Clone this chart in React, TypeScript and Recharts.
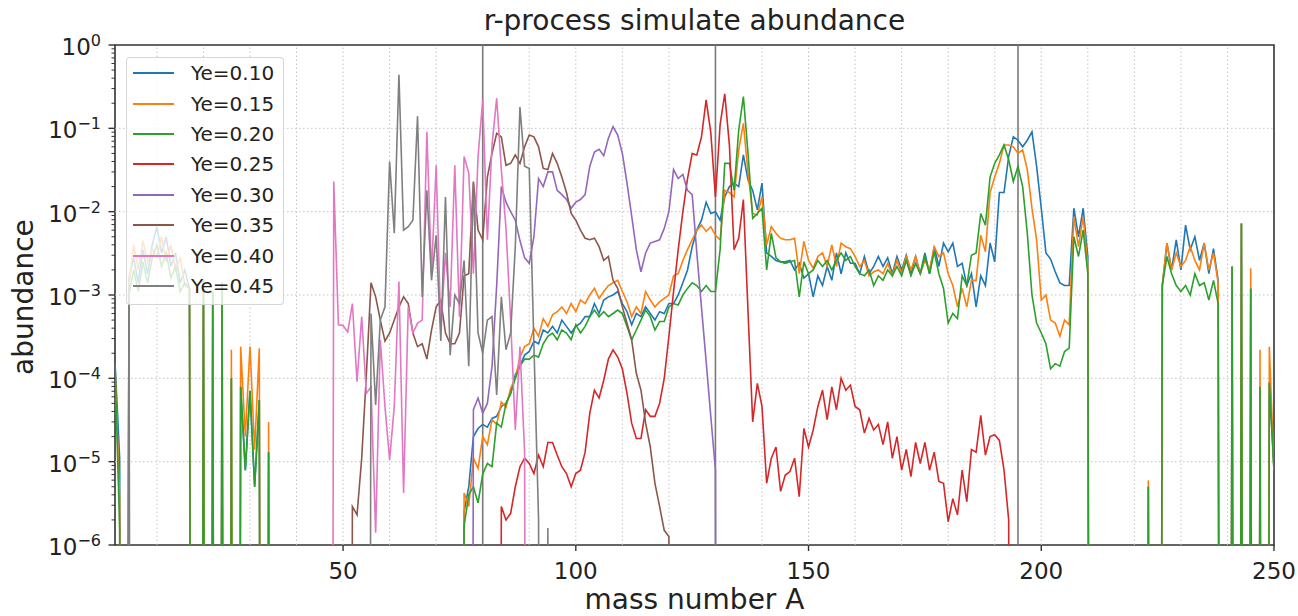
import { LineChart, Line, XAxis, YAxis, Legend, ReferenceLine, ReferenceArea } from "recharts";

const FONT = '"DejaVu Sans", Verdana, sans-serif';

// abundance per mass number A; 0 means nothing produced at that A
const ye010 = [
  1.6e-4, 1.1e-5, 0, 1.6e-3, 2.8e-3, 1.4e-3, 3.5e-3, 1.8e-3, 4.0e-3, 6.6e-3,
  3.2e-3, 5.0e-3, 2.2e-3, 3.2e-3, 1.4e-3, 2.0e-3, 1.2e-3, 0, 0, 1.5e-3,
  0, 1.1e-3, 0, 1.4e-3, 0, 1.0e-4, 0, 7.9e-5, 7.9e-6, 7.1e-5,
  5.0e-6, 5.5e-5, 0, 1.3e-5, 0, 0, 0, 0, 0, 0,
  0, 0, 0, 0, 0, 0, 0, 0, 0, 0,
  0, 0, 0, 0, 0, 0, 0, 0, 0, 0,
  0, 0, 0, 0, 0, 0, 0, 0, 0, 0,
  0, 0, 0, 0, 0, 2.5e-6, 5.0e-6, 2.0e-5, 2.5e-5, 2.8e-5,
  2.6e-5, 3.3e-5, 3.5e-5, 4.6e-5, 5.0e-5, 6.6e-5, 1.1e-4, 1.4e-4, 1.9e-4, 2.1e-4,
  2.8e-4, 2.6e-4, 3.8e-4, 3.5e-4, 4.2e-4, 3.5e-4, 5.0e-4, 4.2e-4, 3.5e-4, 4.2e-4,
  4.6e-4, 5.5e-4, 5.5e-4, 7.9e-4, 6.0e-4, 8.7e-4, 9.5e-4, 1.0e-3, 1.1e-3, 7.9e-4,
  6.3e-4, 4.4e-4, 6.0e-4, 5.5e-4, 7.2e-4, 6.0e-4, 5.0e-4, 6.3e-4, 6.0e-4, 7.9e-4,
  7.9e-4, 1.0e-3, 1.4e-3, 2.0e-3, 3.8e-3, 6.0e-3, 7.9e-3, 1.3e-2, 9.5e-3, 1.0e-2,
  7.9e-3, 1.5e-2, 2.0e-2, 2.2e-2, 2.0e-2, 4.8e-2, 2.4e-2, 1.8e-2, 1.05e-2, 2.2e-2,
  3.2e-3, 2.9e-3, 2.6e-3, 2.5e-3, 2.5e-3, 2.6e-3, 2.0e-3, 2.4e-3, 1.6e-3, 1.8e-3,
  9.5e-4, 1.7e-3, 1.3e-3, 2.2e-3, 1.5e-3, 3.2e-3, 1.8e-3, 3.2e-3, 2.4e-3, 2.4e-3,
  1.8e-3, 2.9e-3, 1.8e-3, 2.2e-3, 2.9e-3, 2.2e-3, 2.8e-3, 1.8e-3, 2.9e-3, 2.0e-3,
  3.0e-3, 1.8e-3, 2.9e-3, 1.8e-3, 3.2e-3, 1.8e-3, 3.8e-3, 2.2e-3, 4.2e-3, 3.3e-3,
  4.2e-3, 2.2e-3, 2.4e-3, 1.3e-3, 1.8e-3, 7.2e-4, 1.7e-3, 1.3e-3, 4.2e-3, 2.5e-3,
  1.7e-2, 1.7e-2, 4.6e-2, 7.9e-2, 7.2e-2, 6.0e-2, 7.2e-2, 9.1e-2, 3.5e-2, 1.1e-2,
  3.2e-3, 2.7e-3, 1.9e-3, 1.4e-3, 1.3e-3, 1.3e-3, 1.1e-2, 5.0e-3, 1.1e-2, 2.9e-3,
  0, 0, 0, 0, 0, 0, 0, 0, 0, 0,
  0, 0, 5.0e-6, 0, 0, 1.3e-3, 4.2e-3, 2.0e-3, 4.6e-3, 2.0e-3,
  6.9e-3, 3.5e-3, 5.0e-3, 2.6e-3, 4.2e-3, 1.8e-3, 3.6e-3, 1.5e-3, 0, 0,
  2.2e-3, 0, 7.2e-3, 0, 1.2e-3, 0, 7.9e-5, 0, 8.9e-5, 7.9e-6,
];

const ye015 = [
  1.4e-4, 3.5e-6, 0, 1.3e-3, 4.0e-3, 2.0e-3, 4.5e-3, 2.5e-3, 3.5e-3, 2.8e-3,
  5.0e-3, 2.5e-3, 4.0e-3, 2.0e-3, 2.8e-3, 1.3e-3, 1.2e-3, 0, 0, 1.5e-3,
  0, 1.1e-3, 0, 1.4e-3, 0, 2.2e-4, 0, 2.4e-4, 2.0e-5, 2.4e-4,
  1.4e-5, 2.3e-4, 0, 3.0e-5, 0, 0, 0, 0, 0, 0,
  0, 0, 0, 0, 0, 0, 0, 0, 0, 0,
  0, 0, 0, 0, 0, 0, 0, 0, 0, 0,
  0, 0, 0, 0, 0, 0, 0, 0, 0, 0,
  0, 0, 0, 0, 0, 4.2e-6, 2.9e-6, 1.1e-5, 8.3e-6, 2.0e-5,
  1.6e-5, 3.2e-5, 2.8e-5, 5.2e-5, 4.5e-5, 7.6e-5, 1.0e-4, 1.8e-4, 2.4e-4, 2.6e-4,
  4.0e-4, 3.2e-4, 5.2e-4, 4.2e-4, 5.8e-4, 6.3e-4, 7.2e-4, 6.0e-4, 7.9e-4, 6.3e-4,
  8.7e-4, 7.9e-4, 1.0e-3, 1.2e-3, 9.1e-4, 1.1e-3, 1.3e-3, 1.4e-3, 1.5e-3, 1.1e-3,
  8.3e-4, 5.5e-4, 7.2e-4, 6.0e-4, 1.1e-3, 8.7e-4, 7.2e-4, 8.3e-4, 9.1e-4, 1.0e-3,
  1.7e-3, 1.8e-3, 2.6e-3, 3.5e-3, 4.6e-3, 6.0e-3, 6.9e-3, 5.8e-3, 6.6e-3, 5.2e-3,
  4.6e-3, 1.8e-2, 1.7e-2, 1.5e-2, 5.5e-2, 1.15e-1, 2.9e-2, 9.5e-3, 9.1e-3, 1.5e-2,
  4.0e-3, 6.6e-3, 5.5e-3, 4.8e-3, 4.6e-3, 4.6e-3, 4.8e-3, 1.8e-3, 4.4e-3, 2.6e-3,
  2.1e-3, 2.9e-3, 3.2e-3, 2.2e-3, 4.0e-3, 2.2e-3, 4.2e-3, 3.8e-3, 3.6e-3, 2.9e-3,
  2.2e-3, 2.6e-3, 1.7e-3, 1.9e-3, 2.0e-3, 1.8e-3, 2.4e-3, 1.7e-3, 2.6e-3, 1.8e-3,
  2.9e-3, 2.0e-3, 2.9e-3, 1.8e-3, 2.6e-3, 2.0e-3, 3.8e-3, 2.9e-3, 3.2e-3, 1.8e-3,
  1.3e-3, 7.2e-4, 1.2e-3, 7.2e-4, 1.5e-3, 1.5e-3, 5.2e-3, 3.3e-3, 1.7e-2, 2.6e-2,
  3.8e-2, 6.3e-2, 6.3e-2, 6.0e-2, 5.0e-2, 5.5e-2, 3.2e-2, 1.1e-2, 4.6e-3, 8.7e-4,
  1.0e-3, 5.0e-4, 4.6e-4, 3.2e-4, 5.0e-4, 4.4e-4, 8.7e-3, 3.8e-3, 8.7e-3, 2.2e-3,
  0, 0, 0, 0, 0, 0, 0, 0, 0, 0,
  0, 0, 6.0e-6, 0, 0, 1.3e-3, 4.2e-3, 2.0e-3, 3.2e-3, 2.2e-3,
  2.6e-3, 3.8e-3, 2.6e-3, 2.0e-3, 4.2e-3, 2.0e-3, 3.2e-3, 1.4e-3, 0, 0,
  2.2e-3, 0, 7.2e-3, 0, 2.1e-3, 0, 2.2e-4, 0, 2.4e-4, 7.9e-6,
];

const ye020 = [
  1.4e-4, 1.6e-6, 0, 1.0e-3, 2.0e-3, 1.1e-3, 2.5e-3, 1.4e-3, 2.8e-3, 4.0e-3,
  2.2e-3, 3.2e-3, 1.6e-3, 2.2e-3, 1.1e-3, 1.4e-3, 1.2e-3, 0, 0, 1.5e-3,
  0, 1.1e-3, 0, 1.4e-3, 0, 1.0e-4, 0, 7.9e-5, 7.9e-6, 7.1e-5,
  5.0e-6, 5.5e-5, 0, 1.3e-5, 0, 0, 0, 0, 0, 0,
  0, 0, 0, 0, 0, 0, 0, 0, 0, 0,
  0, 0, 0, 0, 0, 0, 0, 0, 0, 0,
  0, 0, 0, 0, 0, 0, 0, 0, 0, 0,
  0, 0, 0, 0, 0, 1.7e-6, 4.0e-6, 5.0e-6, 3.2e-6, 7.1e-6,
  9.5e-6, 8.7e-6, 2.9e-5, 2.6e-5, 5.0e-5, 6.6e-5, 1.0e-4, 1.4e-4, 1.7e-4, 1.7e-4,
  1.9e-4, 1.8e-4, 2.6e-4, 3.2e-4, 3.5e-4, 2.9e-4, 3.8e-4, 3.5e-4, 2.9e-4, 4.4e-4,
  3.5e-4, 4.2e-4, 5.5e-4, 6.6e-4, 5.5e-4, 6.3e-4, 5.5e-4, 6.0e-4, 6.6e-4, 6.0e-4,
  4.2e-4, 2.9e-4, 3.8e-4, 5.0e-4, 6.6e-4, 5.5e-4, 3.8e-4, 4.8e-4, 4.8e-4, 7.2e-4,
  7.9e-4, 7.6e-4, 1.0e-3, 1.2e-3, 1.4e-3, 1.3e-3, 1.1e-3, 1.3e-3, 1.1e-3, 1.1e-3,
  3.5e-3, 3.8e-2, 3.8e-2, 1.8e-2, 9.5e-2, 2.4e-1, 5.0e-2, 8.3e-3, 9.5e-3, 1.1e-2,
  2.0e-3, 5.5e-3, 2.8e-3, 2.5e-3, 2.4e-3, 2.5e-3, 2.6e-3, 9.5e-4, 2.5e-3, 1.8e-3,
  2.0e-3, 2.6e-3, 2.2e-3, 2.6e-3, 2.0e-3, 2.6e-3, 3.2e-3, 2.6e-3, 2.9e-3, 2.2e-3,
  1.8e-3, 1.7e-3, 2.0e-3, 1.3e-3, 1.7e-3, 1.5e-3, 2.0e-3, 1.7e-3, 2.2e-3, 1.7e-3,
  2.6e-3, 1.7e-3, 2.4e-3, 1.8e-3, 2.9e-3, 1.8e-3, 3.3e-3, 1.8e-3, 1.2e-3, 4.6e-4,
  6.0e-4, 5.2e-4, 1.7e-3, 1.3e-3, 3.0e-3, 3.2e-3, 9.5e-3, 6.9e-3, 2.6e-2, 3.8e-2,
  4.8e-2, 6.3e-2, 4.2e-2, 2.3e-2, 3.5e-2, 2.0e-2, 5.5e-3, 1.0e-3, 4.6e-4, 3.5e-4,
  2.6e-4, 1.3e-4, 1.5e-4, 1.4e-4, 2.1e-4, 2.3e-4, 5.0e-3, 2.9e-3, 6.0e-3, 1.8e-3,
  0, 0, 0, 0, 0, 0, 0, 0, 0, 0,
  0, 0, 5.0e-6, 0, 0, 1.3e-3, 2.9e-3, 1.8e-3, 1.3e-3, 1.1e-3,
  1.3e-3, 1.0e-3, 1.8e-3, 1.3e-3, 1.4e-3, 8.7e-4, 1.5e-3, 7.9e-4, 0, 0,
  2.2e-3, 0, 7.2e-3, 0, 1.2e-3, 0, 7.9e-5, 0, 8.9e-5, 7.9e-6,
];

// A = 83 .. 194
const ye025 = [
  0, 2.9e-6, 2.0e-6, 2.4e-6, 5.0e-6, 8.7e-6, 1.1e-5, 9.5e-6,
  7.2e-6, 1.2e-5, 8.7e-6, 1.7e-5, 1.7e-5, 1.2e-5, 8.7e-6, 7.2e-6, 5.0e-6, 7.2e-6,
  7.9e-6, 1.3e-5, 3.8e-5, 7.2e-5, 5.8e-5, 9.5e-5, 1.7e-4, 2.2e-4, 1.8e-4, 1.3e-4,
  6.6e-5, 2.9e-5, 1.9e-5, 1.9e-5, 4.2e-5, 3.5e-5, 3.5e-5, 5.0e-5, 1.0e-4, 3.2e-4,
  1.1e-3, 3.5e-3, 1.0e-2, 2.5e-2, 5.0e-2, 4.8e-2, 7.9e-2, 2.2e-1, 8.9e-2, 1.5e-2,
  1.1e-1, 2.6e-1, 6.3e-2, 3.5e-3, 4.8e-3, 1.4e-2, 6.3e-4, 3.0e-5, 8.7e-5, 4.6e-5,
  5.5e-6, 1.1e-5, 1.5e-5, 4.4e-6, 6.9e-6, 7.6e-6, 1.1e-5, 3.8e-6, 2.5e-5, 1.5e-5,
  2.4e-5, 4.6e-5, 7.2e-5, 3.2e-5, 7.9e-5, 4.2e-5, 1.0e-4, 7.2e-5, 8.3e-5, 4.6e-5,
  4.2e-5, 2.2e-5, 3.3e-5, 2.4e-5, 2.8e-5, 1.6e-5, 3.0e-5, 1.1e-5, 2.0e-5, 7.9e-6,
  1.4e-5, 6.6e-6, 1.7e-5, 9.5e-6, 1.7e-5, 7.9e-6, 1.3e-5, 5.8e-6, 5.5e-6, 1.9e-6,
  3.6e-6, 2.3e-6, 7.9e-6, 3.3e-6, 1.4e-5, 1.3e-5, 3.6e-5, 1.2e-5, 2.0e-5, 2.1e-5,
  1.8e-5, 7.9e-6, 2.0e-6, 0,
];

// A = 77 .. 131
const ye030 = [
  0, 4.2e-5, 5.8e-5, 3.8e-5,
  5.0e-5, 1.4e-4, 1.3e-3, 2.0e-2, 1.3e-2, 1.0e-2, 7.9e-3, 4.5e-3, 2.8e-3, 2.4e-3,
  5.0e-3, 2.5e-2, 2.0e-2, 3.0e-2, 3.0e-2, 1.8e-2, 1.6e-2, 1.4e-2, 1.1e-2, 1.3e-2,
  1.4e-2, 1.6e-2, 3.5e-2, 5.2e-2, 5.6e-2, 4.7e-2, 7.6e-2, 1.05e-1, 8.3e-2, 5.0e-2,
  2.2e-2, 8.9e-3, 3.5e-3, 1.9e-3, 3.2e-3, 4.2e-3, 4.4e-3, 4.6e-3, 6.3e-3, 1.0e-2,
  3.2e-2, 2.5e-2, 2.8e-2, 1.8e-2, 1.6e-2, 3.2e-3, 7.1e-4, 1.6e-4, 3.5e-5, 7.9e-6, 0,
];

// A = 51 .. 121
const ye035 = [
  0, 2.9e-6, 2.3e-6, 1.1e-5, 1.1e-4, 1.4e-3, 9.5e-4, 5.0e-4, 2.8e-4, 3.5e-4,
  5.0e-4, 7.2e-4, 9.5e-4, 7.9e-4, 3.5e-4, 2.4e-4, 2.6e-4, 1.7e-4, 3.8e-4, 7.2e-4,
  8.7e-4, 3.5e-4, 2.6e-4, 2.6e-4, 3.5e-4, 1.7e-3, 1.8e-3, 2.3e-2, 6.0e-3, 4.6e-3,
  2.6e-2, 5.0e-2, 8.7e-2, 7.9e-2, 3.6e-2, 3.8e-2, 4.8e-2, 3.8e-2, 6.0e-2, 8.3e-2,
  7.9e-2, 6.0e-2, 3.3e-2, 3.2e-2, 5.0e-2, 3.8e-2, 2.6e-2, 1.7e-2, 9.5e-3, 7.9e-3,
  6.0e-3, 4.8e-3, 4.6e-3, 4.8e-3, 3.8e-3, 2.6e-3, 2.9e-3, 1.5e-3, 1.2e-3, 7.2e-4,
  4.6e-4, 2.9e-4, 1.15e-4, 7.2e-5, 2.9e-5, 1.5e-5, 5.5e-6, 2.9e-6, 1.5e-6, 1.26e-6, 0,
];

// A = 47 .. 90
const ye040 = [
  0, 2.3e-2, 4.4e-4, 4.3e-4,
  3.6e-4, 7.9e-4, 9.1e-5, 5.5e-4, 6.6e-5, 7.9e-5, 1.4e-6, 2.9e-4, 4.6e-5, 1.05e-5,
  4.6e-5, 1.45e-3, 4.2e-6, 7.2e-4, 3.5e-4, 4.6e-4, 5.0e-4, 9.1e-2, 1.8e-3, 3.6e-2,
  3.8e-4, 3.2e-3, 7.2e-4, 3.6e-2, 5.5e-4, 4.6e-2, 2.9e-2, 1.8e-3, 4.6e-2, 2.2e-1,
  4.6e-3, 6.3e-2, 2.3e-1, 3.2e-2, 6.3e-3, 5.0e-4, 2.4e-5, 2.4e-4, 1.3e-5, 0,
];

// A = 1 .. 95
const ye045 = [
  0, 0, 0, 1.3e-3, 0, 0, 0, 0, 0, 0,
  0, 0, 0, 0, 0, 0, 0, 0, 0, 0,
  0, 0, 0, 0, 0, 0, 0, 0, 0, 0,
  0, 0, 0, 0, 0, 0, 0, 0, 0, 0,
  0, 0, 0, 0, 0, 0, 0, 0, 0, 0,
  0, 0, 0, 0, 0, 6.0e-4, 4.8e-5, 5.0e-4, 7.2e-4, 4.0e-2,
  5.5e-3, 4.4e-1, 6.0e-3, 6.6e-3, 7.9e-3, 1.4e-1, 9.5e-4, 1.8e-2, 1.5e-3, 5.2e-3,
  2.8e-4, 1.5e-2, 1.9e-4, 1.0e-3, 7.9e-4, 2.6e-3, 1.4e-4, 2.2e-2, 3.5e-4, 2.0e-4,
  5.0e-4, 5.5e-4, 6.3e-5, 9.5e-4, 2.2e-4, 3.5e-4, 3.8e-3, 1.8e-1, 3.5e-2, 3.3e-2,
  2.5e-4, 2.0e-6, 0, 1.6e-6, 0,
];

const SERIES = [
  { key: "ye010", name: "Ye=0.10", color: "#1f77b4", start: 1, values: ye010 },
  { key: "ye015", name: "Ye=0.15", color: "#ff7f0e", start: 1, values: ye015 },
  { key: "ye020", name: "Ye=0.20", color: "#2ca02c", start: 1, values: ye020 },
  { key: "ye025", name: "Ye=0.25", color: "#d62728", start: 83, values: ye025 },
  { key: "ye030", name: "Ye=0.30", color: "#9467bd", start: 77, values: ye030 },
  { key: "ye035", name: "Ye=0.35", color: "#8c564b", start: 51, values: ye035 },
  { key: "ye040", name: "Ye=0.40", color: "#e377c2", start: 47, values: ye040 },
  { key: "ye045", name: "Ye=0.45", color: "#7f7f7f", start: 1, values: ye045 },
];

const X_TICKS = [50, 100, 150, 200, 250];
const X_GRID = [10, 20, 30, 40, 50, 60, 70, 80, 90, 100, 110, 120, 130, 140, 150, 160, 170, 180, 190, 200, 210, 220, 230, 240];
const Y_MAJOR = [1e-6, 1e-5, 1e-4, 1e-3, 1e-2, 1e-1, 1];
const MARKED_A = [80, 130, 195];

// zero abundance is pushed far below the axis, like a clipped log plot
const FLOOR = 1e-30;

const rows: Record<string, number>[] = [];
for (let a = 1; a <= 250; a++) {
  const row: Record<string, number> = { A: a };
  for (const s of SERIES) {
    const i = a - s.start;
    if (i >= 0 && i < s.values.length) row[s.key] = s.values[i] > 0 ? s.values[i] : FLOOR;
  }
  rows.push(row);
}

const yMinor: number[] = [];
for (let e = -6; e < 0; e++) {
  for (let m = 2; m <= 9; m++) yMinor.push(m * Math.pow(10, e));
}
const yTicks = [...Y_MAJOR, ...yMinor];

function YTick({ x, y, payload }: any) {
  const v = payload.value;
  const major = Y_MAJOR.some((t) => Math.abs(v / t - 1) < 1e-9);
  if (!major) {
    return <line x1={x - 3.5} x2={x} y1={y} y2={y} stroke="#333" strokeWidth={1} />;
  }
  const exp = Math.round(Math.log10(v));
  return (
    <g>
      <line x1={x - 6.5} x2={x} y1={y} y2={y} stroke="#333" strokeWidth={1.4} />
      <text x={x - 14} y={y + 10} textAnchor="end" fontSize={23} fontFamily={FONT} fill="#222">
        10
        <tspan dy={-9} fontSize={16}>
          {exp === 0 ? "0" : `\u2212${-exp}`}
        </tspan>
      </text>
    </g>
  );
}

function XTick({ x, y, payload }: any) {
  return (
    <g>
      <line x1={x} x2={x} y1={y} y2={y + 6} stroke="#333" strokeWidth={1.4} />
      <text x={x} y={y + 34} textAnchor="middle" fontSize={23} fontFamily={FONT} fill="#222">
        {payload.value}
      </text>
    </g>
  );
}

function LegendBox({ payload }: any) {
  return (
    <div
      style={{
        width: 158,
        height: 248,
        boxSizing: "border-box",
        background: "rgba(255,255,255,0.8)",
        border: "1px solid rgba(204,204,204,0.8)",
        borderRadius: 4,
        fontFamily: FONT,
      }}
    >
      {(payload || []).map((entry: any) => (
        <div key={entry.value} style={{ display: "flex", alignItems: "center", height: 30.4 }}>
          <svg width={41} height={4} style={{ marginLeft: 6, display: "block" }}>
            <line x1={0} x2={41} y1={2} y2={2} stroke={entry.color} strokeWidth={1.8} />
          </svg>
          <span style={{ marginLeft: 17, fontSize: 20, color: "#222", lineHeight: "20px" }}>{entry.value}</span>
        </div>
      ))}
    </div>
  );
}

export default function App() {
  return (
    <div style={{ position: "absolute", left: 0, top: 0, width: 1298, height: 616, background: "#fff", fontFamily: FONT }}>
      <div style={{ position: "absolute", left: 115, width: 1159, top: 7, textAlign: "center", fontSize: 28, lineHeight: "28px", color: "#222" }}>
        r-process simulate abundance
      </div>
      <div style={{ position: "absolute", left: 115, width: 1159, top: 587, textAlign: "center", fontSize: 28, lineHeight: "25px", color: "#222" }}>
        mass number A
      </div>
      <div
        style={{
          position: "absolute",
          left: 24 - 100,
          top: 297 - 14,
          width: 200,
          textAlign: "center",
          fontSize: 28,
          lineHeight: "28px",
          color: "#222",
          transform: "rotate(-90deg)",
        }}
      >
        abundance
      </div>
      <LineChart width={1298} height={616} data={rows} margin={{ top: 45, right: 24, bottom: 0, left: 0 }}>
        <XAxis
          dataKey="A"
          type="number"
          domain={[1, 250]}
          ticks={X_TICKS}
          interval={0}
          allowDataOverflow
          height={71}
          tickSize={0}
          tickMargin={0}
          axisLine={false}
          tickLine={false}
          tick={XTick}
        />
        <YAxis
          type="number"
          scale="log"
          domain={[1e-6, 1]}
          ticks={yTicks}
          interval={0}
          allowDataOverflow
          width={115}
          tickSize={0}
          tickMargin={0}
          axisLine={false}
          tickLine={false}
          tick={YTick}
        />
        {X_GRID.map((a) => (
          <ReferenceLine key={`gx${a}`} x={a} stroke="#c4c4c4" strokeWidth={1} strokeDasharray="1.5 2.5" />
        ))}
        {Y_MAJOR.slice(1, -1).map((v) => (
          <ReferenceLine key={`gy${v}`} y={v} stroke="#c4c4c4" strokeWidth={1} strokeDasharray="1.5 2.5" />
        ))}
        {MARKED_A.map((a) => (
          <ReferenceLine key={`m${a}`} x={a} stroke="#7a7a7a" strokeWidth={1.6} />
        ))}
        {SERIES.map((s) => (
          <Line
            key={s.key}
            type="linear"
            dataKey={s.key}
            name={s.name}
            stroke={s.color}
            strokeWidth={1.6}
            dot={false}
            activeDot={false}
            connectNulls={false}
            isAnimationActive={false}
          />
        ))}
        <ReferenceArea x1={1} x2={250} y1={1e-6} y2={1} fill="none" stroke="#333" strokeWidth={1.6} />
        <Legend
          layout="vertical"
          align="center"
          verticalAlign="middle"
          content={LegendBox}
          wrapperStyle={{ left: 126, top: 57, width: 158, height: 248 }}
        />
      </LineChart>
    </div>
  );
}
